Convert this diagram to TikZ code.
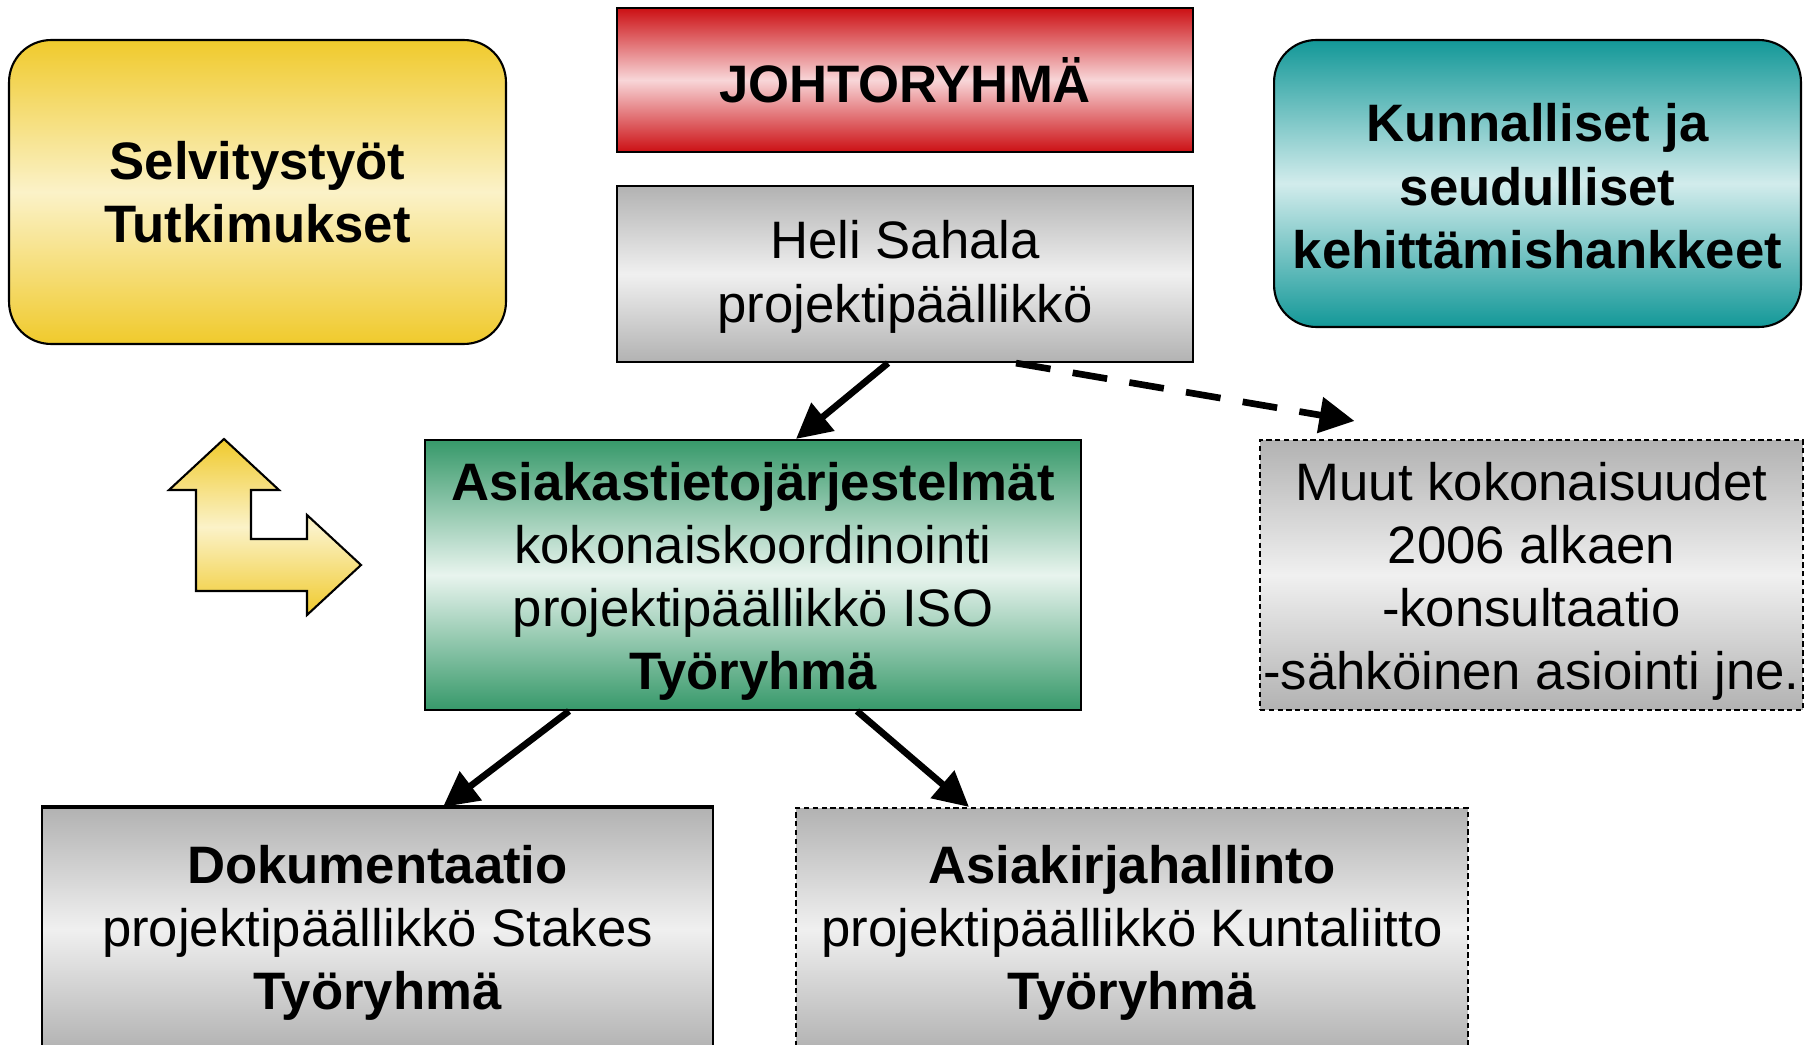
\documentclass[tikz,border=0pt]{standalone}
\usepackage{fontspec}
\setmainfont{Liberation Sans}
\usetikzlibrary{positioning, arrows.meta}

\definecolor{greyedge}{HTML}{B2B2B2}
\definecolor{greymid}{HTML}{F0F0F0}
\definecolor{redtop}{HTML}{CC1014}
\definecolor{redmid}{HTML}{F8D6D8}
\definecolor{greentop}{HTML}{37996A}
\definecolor{greenmid}{HTML}{E8F4EE}
\definecolor{goldtop}{HTML}{F0CA2C}
\definecolor{goldmid}{HTML}{FBF2C8}
\definecolor{tealtop}{HTML}{139898}
\definecolor{tealmid}{HTML}{D2ECEC}

\begin{document}
\begin{tikzpicture}[x=0.02cm, y=-0.02cm, font=\fontsize{30}{36}\selectfont,
    box/.style={draw, line width=1.2pt, rectangle, align=center, inner sep=0pt},
    greybox/.style={box, top color=greyedge, bottom color=greyedge, middle color=greymid},
    redbox/.style={box, top color=redtop, bottom color=redtop, middle color=redmid},
    greenbox/.style={box, top color=greentop, bottom color=greentop, middle color=greenmid},
    goldbox/.style={box, rounded corners=0.84cm, top color=goldtop, bottom color=goldtop, middle color=goldmid},
    tealbox/.style={box, rounded corners=0.84cm, top color=tealtop, bottom color=tealtop, middle color=tealmid},
    dashedbox/.style={dash pattern=on 3pt off 2pt},
    link/.style={-{Triangle[length=0.7cm, width=0.7cm]}, line width=3.8pt}]
    \useasboundingbox (0,0) rectangle (1814,1044);
    \clip (0,0) rectangle (1814,1044);

    \node (selv) [goldbox, minimum width=9.94cm, minimum height=6.08cm] at (257.5, 192) {\bfseries Selvitystyöt\\\bfseries Tutkimukset};
    \node (johto) [redbox, minimum width=11.52cm, minimum height=2.88cm] at (905, 80) {\bfseries JOHTORYHMÄ};
    \node (heli) [greybox, minimum width=11.52cm, minimum height=3.52cm, below=0.64cm of johto] {\rule{0pt}{25pt}Heli Sahala\\projektipäällikkö};
    \node (kunta) [tealbox, minimum width=10.54cm, minimum height=5.74cm] at (1537.5, 183.5) {\rule{0pt}{25pt}\bfseries Kunnalliset ja\\\bfseries seudulliset\\\bfseries kehittämishankkeet};
    \node (iso) [greenbox, minimum width=13.12cm, minimum height=5.4cm] at (753, 575) {\rule{0pt}{29pt}\bfseries Asiakastietojärjestelmät\\kokonaiskoordinointi\\projektipäällikkö ISO\\\bfseries Työryhmä};
    \node (muut) [greybox, dashedbox, minimum width=10.86cm, minimum height=5.4cm, right=3.54cm of iso] {\rule{0pt}{29pt}Muut kokonaisuudet\\2006 alkaen\\-konsultaatio\\-sähköinen asiointi jne.};
    \node (dok) [greybox, minimum width=13.42cm, minimum height=4.84cm] at (377.5, 929) {\rule{0pt}{26pt}\bfseries Dokumentaatio\\projektipäällikkö Stakes\\\bfseries Työryhmä};
    \node (asia) [greybox, dashedbox, minimum width=13.44cm, minimum height=4.84cm, right=1.62cm of dok] {\rule{0pt}{26pt}\bfseries Asiakirjahallinto\\projektipäällikkö Kuntaliitto\\\bfseries Työryhmä};
    \draw [line width=2.6pt] (dok.north west) -- (dok.north east);

    % kaksisuuntainen kulmanuoli
    \draw [line width=1.2pt, top color=goldtop, bottom color=goldtop, middle color=goldmid]
        (224, 439) -- (279, 490) -- (251, 490) -- (251, 539) -- (307, 539) -- (307, 515)
        -- (361, 565) -- (307, 615) -- (307, 591) -- (196, 591) -- (196, 490) -- (169, 490) -- cycle;

    \draw [link] ([xshift=-0.34cm]heli.south) -- ([xshift=0.86cm]iso.north);
    \draw [link, dash pattern=on 0.7cm off 0.45cm] ([xshift=2.22cm]heli.south) -- ([xshift=-3.54cm, yshift=0.36cm]muut.north);
    \draw [link] ([xshift=-3.68cm]iso.south) -- ([xshift=1.31cm]dok.north);
    \draw [link] ([xshift=2.08cm]iso.south) -- ([xshift=-3.26cm]asia.north);
\end{tikzpicture}
\end{document}
